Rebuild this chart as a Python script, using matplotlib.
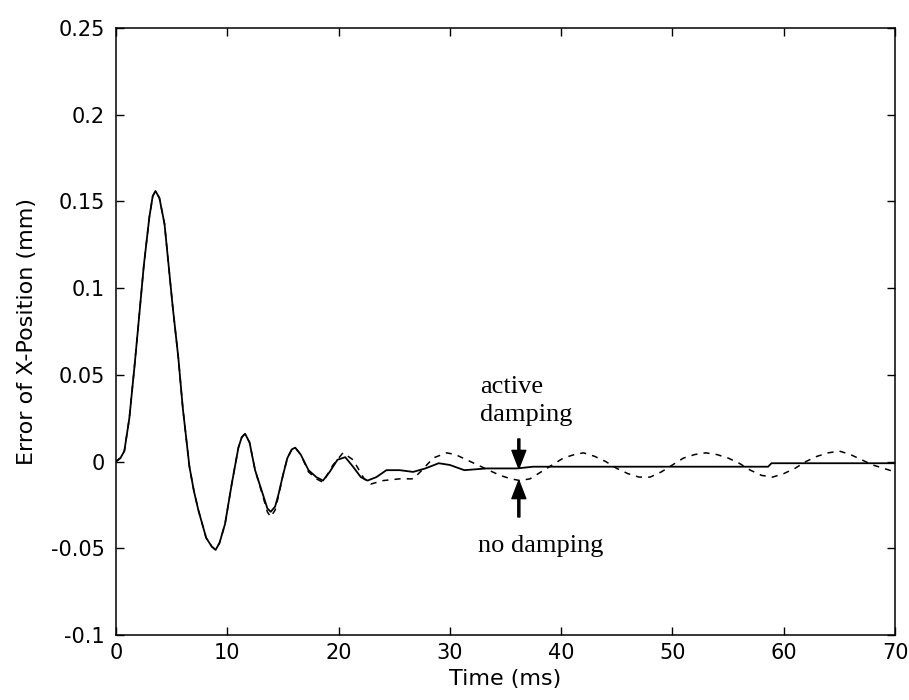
import matplotlib
matplotlib.use('Agg')
import matplotlib.pyplot as plt

# Active damping (solid)
active_t = [0, 0.4, 0.75, 1.2, 1.65, 2.0, 2.5, 3.0, 3.3, 3.55, 3.9, 4.36, 4.7, 5.1,
            5.6, 6.0, 6.6, 7.0, 7.4, 8.1, 8.6, 8.95, 9.3, 9.8, 10.4, 11.0, 11.3,
            11.6, 12.0, 12.5, 13.2, 13.6, 13.9, 14.3, 14.6, 15.0, 15.4, 15.8, 16.1,
            16.6, 17.3, 18.0, 18.6, 19.2, 19.9, 20.6, 21.3, 22.0, 22.6, 23.4, 24.3,
            25.5, 26.7, 27.8, 29.0, 30.0, 31.3, 33.3, 36.0, 37.5, 43.5, 48.0, 58.6,
            58.9, 70.0]
active_err = [0, 0.002, 0.006, 0.025, 0.054, 0.078, 0.113, 0.141, 0.153, 0.156, 0.152,
              0.137, 0.115, 0.089, 0.060, 0.031, -0.003, -0.017, -0.028, -0.044,
              -0.049, -0.051, -0.047, -0.036, -0.013, 0.008, 0.014, 0.016, 0.011,
              -0.005, -0.019, -0.027, -0.029, -0.026, -0.019, -0.008, 0.002, 0.007,
              0.008, 0.004, -0.005, -0.009, -0.011, -0.006, 0.001, 0.0025, -0.003,
              -0.009, -0.011, -0.009, -0.005, -0.005, -0.006, -0.004, -0.001, -0.002,
              -0.005, -0.004, -0.004, -0.003, -0.003, -0.003, -0.003, -0.001, -0.001]

# No damping (dashed)
nodamp_t = [0, 0.4, 0.75, 1.2, 1.65, 2.0, 2.5, 3.0, 3.3, 3.55, 3.9, 4.36, 4.7, 5.1,
            5.6, 6.0, 6.6, 7.0, 7.4, 8.1, 8.6, 8.95, 9.3, 9.8, 10.4, 11.0, 11.3,
            11.6, 12.0, 12.5, 13.2, 13.6, 13.9, 14.3, 14.6, 15.0, 15.4, 15.8, 16.1,
            16.6, 17.3, 18.0, 18.6, 19.5, 20.4, 21.3, 22.3, 22.9, 24.0, 25.5, 26.7,
            27.5, 28.5, 29.7, 30.5, 31.5, 32.5, 33.5, 34.5, 35.5, 36.3, 37.2, 38.2,
            39.2, 40.2, 41.2, 42.0, 43.0, 44.0, 45.0, 46.0, 47.0, 48.0, 49.0, 50.0,
            51.0, 52.0, 53.0, 54.0, 55.0, 56.0, 57.0, 58.0, 59.0, 60.0, 61.0, 62.0,
            63.0, 64.0, 65.0, 66.0, 67.0, 68.0, 69.0, 70.0]
nodamp_err = [0, 0.002, 0.006, 0.025, 0.054, 0.078, 0.113, 0.141, 0.153, 0.156, 0.152,
              0.137, 0.115, 0.089, 0.060, 0.031, -0.003, -0.017, -0.028, -0.044,
              -0.049, -0.051, -0.047, -0.036, -0.013, 0.008, 0.014, 0.016, 0.011,
              -0.005, -0.020, -0.029, -0.032, -0.028, -0.020, -0.008, 0.002, 0.007,
              0.008, 0.004, -0.006, -0.010, -0.012, -0.002, 0.005, 0.001, -0.010,
              -0.013, -0.011, -0.010, -0.010, -0.005, 0.002, 0.005, 0.004, 0.001,
              -0.002, -0.005, -0.008, -0.010, -0.011, -0.010, -0.006, -0.002, 0.002,
              0.004, 0.005, 0.003, 0.000, -0.004, -0.007, -0.009, -0.009, -0.006,
              -0.002, 0.002, 0.004, 0.005, 0.004, 0.002, -0.001, -0.005, -0.008,
              -0.009, -0.007, -0.004, 0.000, 0.003, 0.005, 0.006, 0.004, 0.001,
              -0.002, -0.004, -0.006]

x_ticks = [0, 10, 20, 30, 40, 50, 60, 70]
y_ticks = [-0.1, -0.05, 0, 0.05, 0.1, 0.15, 0.2, 0.25]
y_ticklabels = ['-0.1', '-0.05', '0', '0.05', '0.1', '0.15', '0.2', '0.25']

sans = ['DejaVu Sans']
serif = ['Liberation Serif', 'DejaVu Serif']

fig = plt.figure(figsize=(9.09, 7.0), dpi=100)
ax = fig.add_axes([0.1276, 0.093, 0.857, 0.867])

ax.plot(nodamp_t, nodamp_err, color='black', linewidth=1.1, linestyle=(0, (4, 4)))
ax.plot(active_t, active_err, color='black', linewidth=1.3)

ax.set_xlim(0, 70)
ax.set_ylim(-0.1, 0.25)
ax.set_xticks(x_ticks)
ax.set_xticklabels([str(v) for v in x_ticks], family=sans, fontsize=15)
ax.set_yticks(y_ticks)
ax.set_yticklabels(y_ticklabels, family=sans, fontsize=15)
ax.tick_params(direction='in', length=6, width=1, top=True, right=True)
ax.tick_params(axis='y', pad=8)
ax.tick_params(axis='x', pad=6)
for s in ax.spines.values():
    s.set_linewidth(1.1)

ax.set_xlabel('Time (ms)', family=sans, fontsize=16, labelpad=4)
ax.set_ylabel('Error of X-Position (mm)', family=sans, fontsize=16, labelpad=10)

# annotations
ax.text(32.7, 0.035, 'active\ndamping', family=serif, fontsize=19,
        ha='left', va='center', linespacing=1.35)
ax.text(32.5, -0.049, 'no damping', family=serif, fontsize=19,
        ha='left', va='center')
arrow = dict(facecolor='black', edgecolor='black', width=1.5, headwidth=10,
             headlength=13, shrink=0)
ax.annotate('', xy=(36.2, -0.004), xytext=(36.2, 0.013), arrowprops=arrow)
ax.annotate('', xy=(36.2, -0.011), xytext=(36.2, -0.032), arrowprops=arrow)

fig.savefig('out.png', dpi=100)
